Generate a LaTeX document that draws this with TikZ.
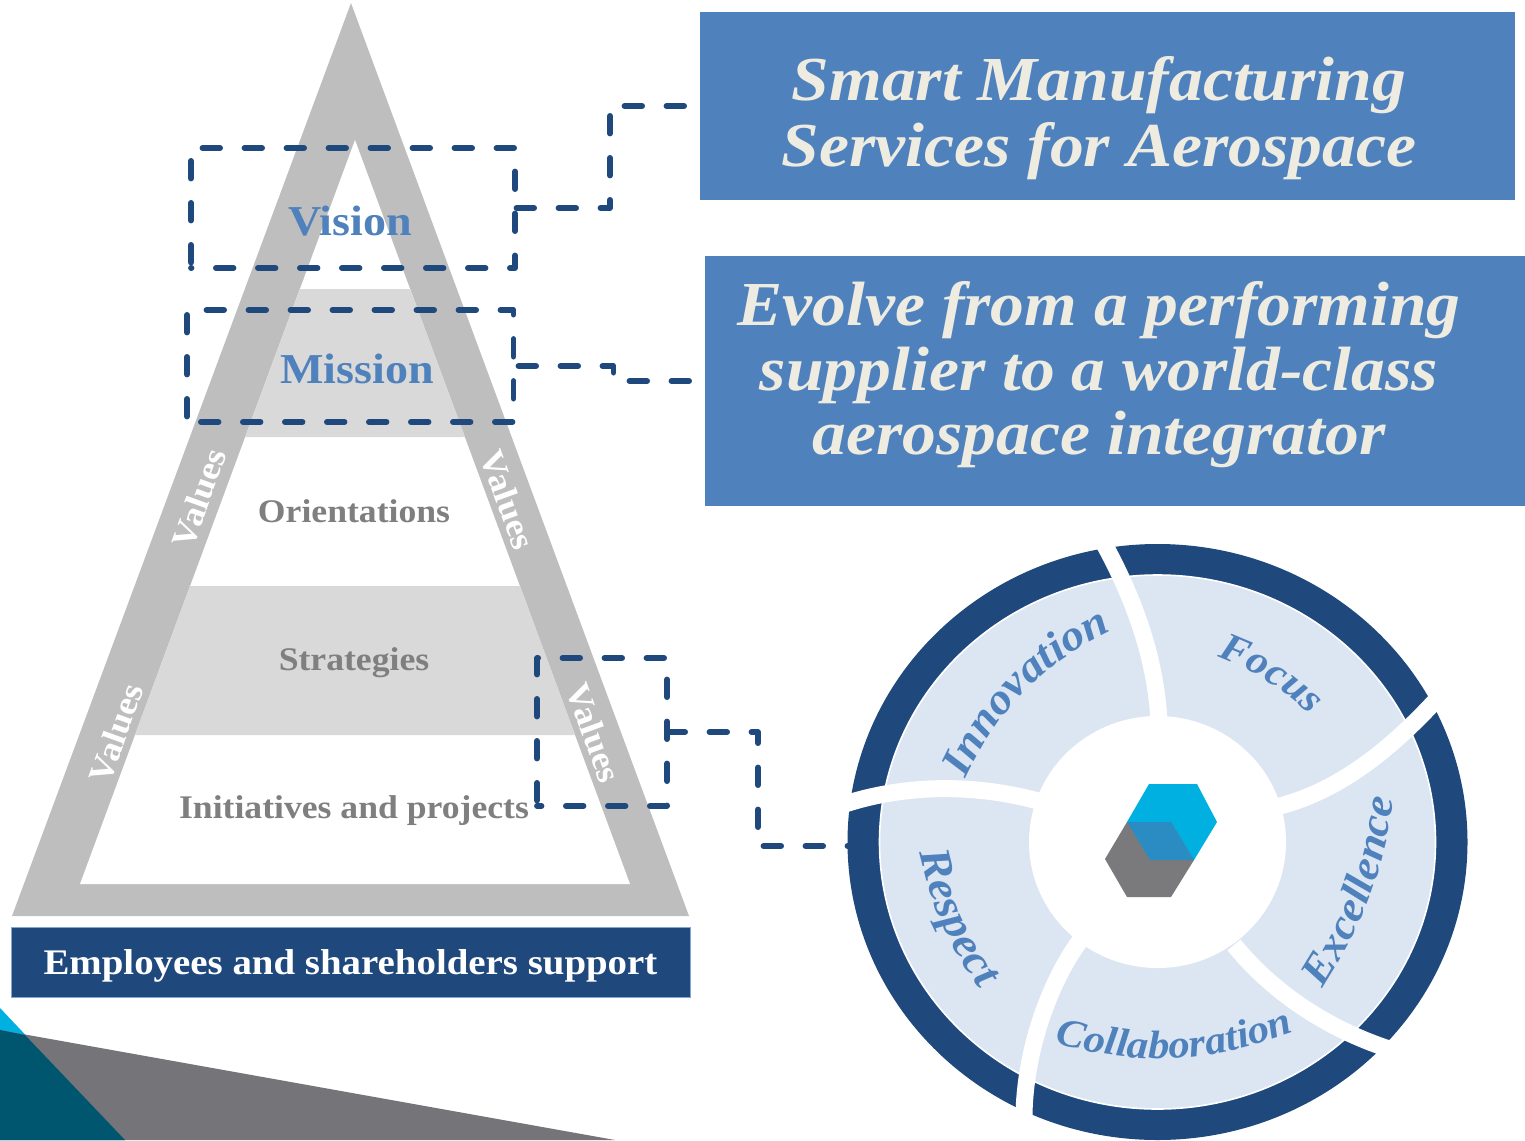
\documentclass[tikz,border=0pt]{standalone}
\usepackage{fontspec}
\setmainfont{Liberation Serif}[FakeStretch=1.08]
\usepackage{tikz}
\usetikzlibrary{positioning, calc, shapes.geometric, decorations.text}
\definecolor{navy}{HTML}{1F497D}
\definecolor{steel}{HTML}{4F81BD}
\definecolor{cream}{HTML}{EEECE1}
\definecolor{pale}{HTML}{DCE6F2}
\definecolor{ashdark}{HTML}{BEBEBE}
\definecolor{ashlight}{HTML}{D9D9D9}
\definecolor{ashtext}{HTML}{7F7F7F}
\definecolor{cyanlogo}{HTML}{00B0E0}
\definecolor{greylogo}{HTML}{7A7A7C}
\definecolor{mixlogo}{HTML}{2B8CC4}
\definecolor{slate}{HTML}{757579}
\definecolor{teal}{HTML}{00566F}
\newcommand{\SizedFont}[1]{\fontsize{#1}{#1}\selectfont}
\newcommand{\WheelText}[5]{\path[decorate, decoration={text along path, text align=center, text={|\SizedFont{#1}\bfseries\itshape\color{steel}|#5}}] (#2) to[#4] (#3);}
\newcommand{\FrameTrace}[1]{\draw[dashline, dash phase=18.25pt] (#1.south west) -- (#1.north west) -- (#1.north east) -- (#1.south east) -- cycle;}

\begin{document}
\begin{tikzpicture}[x=0.5pt, y=-0.5pt,
  framebox/.style={inner sep=0pt, outer sep=0pt},
  dashline/.style={draw=navy, line width=2.9pt, line cap=round, line join=round, dash pattern=on 8.8pt off 12.2pt},
  titlebox/.style={fill=steel, inner sep=0pt, outer sep=0pt},
  titletext/.style={text=cream, align=center, inner sep=0pt, font=\SizedFont{31.3pt}\bfseries\itshape},
  levelname/.style={text=steel, font=\SizedFont{21.3pt}\bfseries},
  levelplain/.style={text=ashtext, font=\SizedFont{16.5pt}\bfseries},
  valuename/.style={text=white, font=\SizedFont{17pt}\bfseries},
  gapline/.style={draw=white, line width=8.5pt}]

\useasboundingbox (0,0) rectangle (1525,1140);

% corner
\fill[cyanlogo] (0,1008) -- (125,1140) -- (0,1140) -- cycle;
\fill[slate] (0,1030) -- (615,1140) -- (0,1140) -- cycle;
\fill[teal] (0,1030) -- (25,1035) -- (125,1140) -- (0,1140) -- cycle;

% pyramid
\fill[ashdark] (351,3) -- (689,916) -- (12,916) -- cycle;
\fill[white] (355,140) -- (630,884) -- (80,884) -- cycle;
\fill[ashlight] (300,289) -- (410,289) -- (465,437) -- (245,437) -- cycle;
\fill[ashlight] (190,586) -- (520,586) -- (575,735) -- (135,735) -- cycle;

\node[levelname] (vision) at (350,221) {Vision};
\node[levelname] (mission) at (357,369) {Mission};
\node[levelplain] (orientations) at (354,511) {Orientations};
\node[levelplain] (strategies) at (354,663) {Strategies};
\node[levelplain] (initiatives) at (354,811) {Initiatives and projects};
\node[valuename, rotate=70] (valuesA) at (199,498) {Values};
\node[valuename, rotate=70] (valuesB) at (116,733) {Values};
\node[valuename, rotate=-70] (valuesC) at (508,500) {Values};
\node[valuename, rotate=-70] (valuesD) at (594,733) {Values};

\node[fill=navy, draw=steel!70, line width=0.5pt, text=white, inner sep=0pt, outer sep=0pt, minimum width=339.5pt, minimum height=35pt, text height=12pt, text depth=0pt, font=\SizedFont{18pt}\bfseries] (support) at (350.5,962) {Employees and shareholders support};

% title boxes
\node[titlebox, minimum width=407.5pt, minimum height=94pt] (smart) at (1107.5,106) {};
\node[titletext] (smarttext) at (1099,118) {Smart Manufacturing\\[1.5pt]Services for Aerospace};
\node[titlebox, minimum width=410pt, minimum height=125pt] (evolve) at (1115,381) {};
\node[titletext] (evolvetext) at (1099,375) {Evolve from a performing\\[1pt]supplier to a world-class\\[1pt]aerospace integrator};

% wheel
\node[ellipse, fill=navy, inner sep=0pt, minimum width=310pt, minimum height=298pt] (wheelring) at (1157.5,842) {};
\node[ellipse, fill=pale, draw=white, line width=0.8pt, inner sep=0pt, minimum width=278pt, minimum height=267pt] (wheelfield) at (1157.5,842) {};
\node[ellipse, fill=white, inner sep=0pt, minimum width=128.5pt, minimum height=126pt] (wheelhub) at (1157.5,842) {};
\draw[gapline] (1159,722) .. controls (1156,660) and (1135,600) .. (1103,542);
\draw[gapline] (1280,806) .. controls (1340,790) and (1390,750) .. (1438,698);
\draw[gapline] (1234,945) .. controls (1275,995) and (1330,1030) .. (1392,1050);
\draw[gapline] (1082,938) .. controls (1050,980) and (1025,1050) .. (1024,1115);
\draw[gapline] (1038,801) .. controls (980,785) and (910,783) .. (845,804);

\WheelText{21.6pt}{963,785}{1118,628}{bend left=20}{Innovation}
\WheelText{20pt}{1212,655}{1314,719}{bend left=12}{Focus}
\WheelText{21pt}{1320,992}{1395,794}{bend right=12}{Excellence}
\WheelText{19.8pt}{1056,1044}{1293,1032}{bend right=17}{Collaboration}
\WheelText{22pt}{917,842}{986,998}{bend right=12}{Respect}

% logo
\fill[cyanlogo] (1149,784) -- (1197,784) -- (1217,822) -- (1194,860) -- (1150,860) -- (1127,822) -- cycle;
\fill[greylogo] (1127,822) -- (1171,822) -- (1194,860) -- (1171,897) -- (1127,897) -- (1105,859) -- cycle;
\fill[mixlogo] (1127,822) -- (1171,822) -- (1194,860) -- (1150,860) -- cycle;

% frames and connectors
\node[framebox, minimum width=162pt, minimum height=60pt] (visionframe) at (353,208) {};
\node[framebox, minimum width=163.25pt, minimum height=56pt] (missionframe) at (350.25,366) {};
\node[framebox, minimum width=65pt, minimum height=74pt] (valuesframe) at (602,732) {};
\FrameTrace{visionframe}
\FrameTrace{missionframe}
\FrameTrace{valuesframe}
\coordinate (wheelport) at (850,846);
\draw[dashline, dash phase=20.25pt, shorten >=6.5pt] (visionframe.east) -- ++(95,0) |- (smart.west);
\draw[dashline, dash phase=18.5pt, shorten >=6.5pt] (missionframe.east) -- ++(100,0) |- (evolve.west);
\draw[dashline, dash phase=20.75pt] (valuesframe.east) -- ++(91,0) |- (wheelport);

\end{tikzpicture}
\end{document}
